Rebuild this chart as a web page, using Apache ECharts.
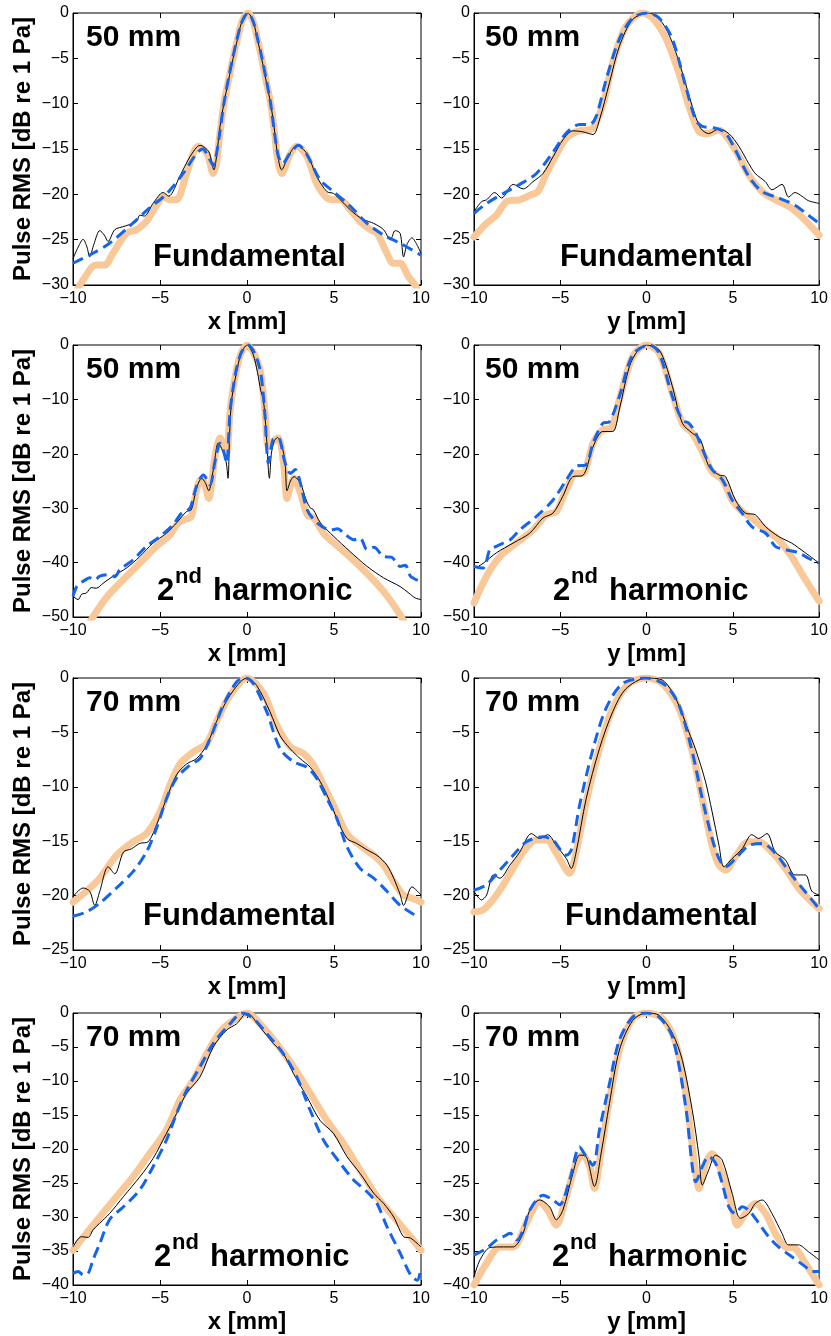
<!DOCTYPE html>
<html><head><meta charset="utf-8">
<script src="https://cdn.jsdelivr.net/npm/echarts@6/dist/echarts.min.js"></script>
<style>html,body{margin:0;padding:0;background:#fff}#c{width:831px;height:1336px}</style>
</head><body><div id="c"></div>
<script>
// ---------- DATA (x or y in mm, Pulse RMS in dB re 1 Pa) ----------
// Panel 1: 50 mm, x, fundamental
const p1Orange = [[-9.8,-30.8],[-9.6,-30],[-9.2,-28.8],[-8.9,-28.0],[-8.66,-27.8],[-8.18,-27.8],[-7.7,-26.5],[-6.93,-24.3],[-6.35,-23.9],[-5.78,-23.0],[-5.2,-21.2],[-4.8,-20.25],[-4.43,-20.6],[-4.05,-20.6],[-3.47,-17.7],[-2.8,-14.7],[-2.3,-15.5],[-1.94,-17.7],[-1.75,-16.5],[-1.6,-14.0],[-1.33,-10],[-1.07,-7.5],[-0.8,-5],[-0.55,-2.9],[-0.3,-1.0],[0.05,0],[0.35,-0.9],[0.6,-2.9],[0.84,-5],[1.1,-7.5],[1.36,-10],[1.6,-13.5],[1.75,-16],[2.0,-17.7],[2.47,-15.6],[2.86,-14.7],[3.44,-15.8],[4.0,-18.8],[4.59,-20.4],[4.97,-20.6],[5.36,-20.6],[5.93,-21.7],[6.5,-23.0],[7.08,-23.9],[7.47,-24.3],[8.04,-26.5],[8.4,-27.6],[8.8,-27.6],[9.28,-29.1],[9.66,-30],[9.85,-30.8]];
const p1Black = [[-10,-27.1],[-9.7,-25.8],[-9.42,-24.96],[-9.2,-25.8],[-9.04,-26.9],[-8.8,-25.5],[-8.46,-24.0],[-8.2,-24.5],[-7.98,-25.2],[-7.6,-23.9],[-7.0,-23.5],[-6.35,-23.0],[-6.16,-22.3],[-5.9,-22.4],[-5.4,-21.0],[-4.82,-19.8],[-4.5,-20.2],[-3.86,-18.0],[-3.26,-15.8],[-2.7,-14.6],[-2.2,-15.3],[-1.9,-17.3],[-1.75,-15.8],[-1.55,-12.5],[-1.33,-10],[-1.07,-7.5],[-0.8,-5],[-0.55,-2.9],[-0.3,-1.0],[0.05,0],[0.35,-0.9],[0.6,-2.9],[0.84,-5],[1.1,-7.5],[1.36,-10],[1.55,-12.5],[1.75,-15.5],[1.99,-17.3],[2.38,-15.8],[2.86,-14.6],[3.44,-15.5],[4.0,-18.0],[4.59,-19.7],[4.97,-19.9],[5.36,-20.6],[5.93,-21.7],[6.3,-22.3],[6.7,-22.8],[7.28,-23.2],[7.85,-23.9],[8.24,-25.0],[8.52,-24.0],[8.8,-24.3],[9.0,-26.9],[9.2,-25.5],[9.48,-24.8],[9.75,-25.5],[10,-26.5]];
const p1Blue = [[-10,-27.6],[-8.85,-26.5],[-7.9,-25.4],[-6.75,-23.5],[-5.6,-21.5],[-4.6,-19.9],[-3.67,-17.7],[-2.9,-15.5],[-2.55,-15.0],[-2.13,-16.2],[-1.94,-16.8],[-1.75,-15.5],[-1.55,-13],[-1.33,-10],[-1.07,-7.3],[-0.8,-4.8],[-0.55,-2.7],[-0.3,-1.0],[0.05,0],[0.35,-0.9],[0.6,-2.8],[0.84,-4.8],[1.1,-7.3],[1.36,-10],[1.6,-13.5],[1.8,-15.8],[2.05,-16.6],[2.47,-15.5],[2.96,-14.6],[3.44,-15.6],[4.2,-18.4],[4.97,-19.7],[5.93,-21.3],[6.9,-23.2],[7.85,-24.5],[8.8,-25.4],[10,-26.7]];
// Panel 2: 50 mm, y, fundamental
const p2Orange = [[-10,-24.7],[-9.27,-23.2],[-8.7,-22.3],[-8.1,-20.8],[-7.35,-20.6],[-6.77,-20.1],[-6.3,-19.7],[-5.8,-17.7],[-5.2,-15.5],[-4.65,-13.8],[-4.08,-13.1],[-3.5,-12.9],[-3.1,-12.7],[-2.5,-9.9],[-1.96,-5.5],[-1.2,-1.5],[-0.23,0],[0.35,-0.55],[1.1,-2.7],[1.87,-6.6],[2.46,-10.3],[3.04,-13.1],[3.5,-13.3],[4.2,-12.9],[4.77,-14.0],[5.35,-15.8],[5.92,-17.85],[6.7,-19.7],[7.46,-20.6],[8.23,-21.3],[9.0,-22.5],[10,-24.5]];
const p2Black = [[-10,-21.9],[-9.56,-20.8],[-9.27,-20.6],[-8.8,-19.8],[-8.4,-20.4],[-7.73,-18.9],[-7.15,-19.4],[-6.58,-18.6],[-6.0,-17.7],[-5.4,-15.8],[-4.85,-14.0],[-4.27,-13.0],[-3.7,-13.1],[-3.1,-13.4],[-2.73,-11.8],[-2.15,-7.7],[-1.58,-3.7],[-0.8,-0.7],[0.15,0],[0.92,-1.1],[1.5,-3.3],[2.08,-6.6],[2.65,-10.3],[3.13,-12.7],[3.6,-13.3],[4.19,-12.8],[4.77,-13.3],[5.35,-14.7],[5.92,-16.6],[6.3,-17.7],[6.88,-18.6],[7.27,-19.5],[7.85,-18.9],[8.23,-20.3],[8.6,-19.8],[9.0,-20.2],[9.38,-20.7],[10,-21.0]];
const p2Blue = [[-10,-22.1],[-9.27,-21.0],[-8.3,-19.9],[-7.35,-18.9],[-6.38,-17.7],[-5.4,-15.3],[-4.65,-13.25],[-3.88,-12.3],[-3.3,-12.3],[-2.92,-11.4],[-2.35,-7.4],[-1.58,-2.9],[-0.8,-0.55],[0,0],[0.73,-0.55],[1.5,-2.9],[2.27,-8.1],[2.85,-11.8],[3.23,-12.5],[4.0,-12.7],[4.58,-13.25],[5.15,-15.1],[5.92,-18.0],[6.7,-19.7],[7.65,-20.4],[8.6,-21.2],[9.38,-22.3],[10,-23.2]];
// Panel 3: 50 mm, x, 2nd harmonic
const p3Orange = [[-9.2,-52],[-8.85,-50],[-8.1,-46.5],[-7.1,-43.1],[-6.16,-40.1],[-5.2,-37],[-4.43,-34.9],[-3.95,-32.7],[-3.57,-32.1],[-3.2,-31.5],[-2.9,-26.6],[-2.6,-24.5],[-2.4,-26],[-2.2,-28.2],[-1.84,-20.5],[-1.55,-17.1],[-1.35,-18.5],[-1.17,-19.9],[-0.98,-12.5],[-0.8,-8],[-0.6,-4.5],[-0.35,-1.6],[0,0],[0.4,-1.6],[0.75,-4.5],[0.9,-8],[1.04,-12.5],[1.23,-18.7],[1.5,-17.7],[1.8,-17.1],[2.1,-21.7],[2.3,-28.2],[2.5,-26],[2.7,-24.5],[3.07,-27.2],[3.46,-31.2],[3.84,-31.8],[4.4,-34.6],[5,-36.4],[5.9,-38.9],[6.9,-42],[7.85,-45.3],[8.8,-49.6],[9.2,-52]];
const p3Black = [[-10,-46.2],[-9.7,-46.8],[-9.5,-45.8],[-9.23,-45.6],[-8.95,-44.6],[-8.66,-44.7],[-8.27,-43.8],[-7.7,-42.5],[-6.93,-41.0],[-6.16,-38.9],[-5.4,-36.4],[-4.63,-34.6],[-4.05,-32.7],[-3.47,-30.6],[-3.2,-30.3],[-2.9,-26.3],[-2.6,-24.5],[-2.4,-25.3],[-2.2,-26.8],[-1.94,-23],[-1.65,-18.0],[-1.46,-19],[-1.2,-21.5],[-1.09,-24.5],[-1.0,-16.5],[-0.88,-10],[-0.6,-5],[-0.35,-1.7],[0,0],[0.35,-1.7],[0.6,-5],[0.8,-8.5],[0.94,-10],[1.1,-16],[1.29,-24.5],[1.4,-20],[1.55,-17.8],[1.75,-17],[2.0,-18.5],[2.19,-21.7],[2.3,-26.8],[2.5,-25.0],[2.7,-24.2],[3.07,-25.4],[3.4,-28.5],[3.65,-30],[3.8,-30.2],[4.22,-32.7],[4.99,-35.2],[5.9,-37.9],[6.9,-40.7],[7.85,-42.8],[8.8,-44.4],[9.3,-45.6],[9.67,-46.5],[10,-46.8]];
const p3Blue = [[-10,-46.2],[-9.8,-44.5],[-9.6,-43.8],[-9.3,-43.2],[-9.04,-42.8],[-8.75,-43.2],[-8.46,-42.5],[-7.9,-42.2],[-7.6,-42.6],[-7.3,-41.3],[-6.55,-39.5],[-5.78,-37],[-5.0,-35.2],[-4.24,-33],[-3.76,-30.9],[-3.28,-30],[-2.9,-26],[-2.5,-23.9],[-2.13,-25.7],[-1.84,-21.4],[-1.55,-18.05],[-1.35,-19.5],[-1.17,-21.7],[-0.98,-12.5],[-0.8,-8],[-0.6,-4.3],[-0.3,-1.2],[0.08,0],[0.45,-1.6],[0.75,-4.5],[0.9,-8],[1.04,-13.2],[1.23,-21.7],[1.5,-17.4],[1.8,-17.1],[2.19,-21.7],[2.5,-23.6],[2.78,-22.9],[3.07,-25.4],[3.46,-30.3],[4.03,-32.7],[4.8,-34],[5.2,-33.8],[5.57,-34.6],[6.14,-35.8],[6.5,-35.5],[6.9,-37.6],[7.3,-37.2],[7.85,-38.9],[8.3,-39],[8.8,-40.7],[9.1,-40.5],[9.4,-42.5],[10,-43.5]];
// Panel 4: 50 mm, y, 2nd harmonic
const p4Orange = [[-10,-47.4],[-9.27,-42.5],[-8.5,-38.9],[-7.54,-36.4],[-6.58,-34],[-5.8,-31.2],[-5.23,-30.6],[-4.65,-26.6],[-4.08,-23.6],[-3.7,-23.6],[-3.1,-18.05],[-2.54,-15.6],[-2.06,-15.3],[-1.58,-10.1],[-0.8,-2.1],[0,0],[0.73,-1.5],[1.5,-8.9],[2.08,-14.4],[2.65,-16.2],[3.23,-19.6],[3.8,-23.3],[4.4,-24.8],[4.96,-28.5],[5.54,-30.6],[6.1,-31.8],[6.9,-34],[7.65,-35.8],[8.4,-38.9],[9.2,-43.1],[10,-47.1]];
const p4Black = [[-9.75,-40.7],[-9.46,-40.1],[-8.7,-38.2],[-7.73,-36.4],[-6.77,-34.6],[-6.0,-31.8],[-5.42,-30.9],[-4.85,-27.8],[-4.27,-24.2],[-3.7,-24],[-3.1,-18.7],[-2.54,-15.9],[-1.96,-15.9],[-1.58,-11.9],[-1.0,-4],[-0.5,-1.0],[0,0],[0.3,-0.2],[0.73,-0.9],[1.1,-3.5],[1.5,-7.65],[2.08,-14.4],[2.65,-16.2],[3.13,-17.4],[3.6,-22.3],[4.2,-23.9],[4.58,-24.2],[5.15,-28.5],[5.73,-30.9],[6.3,-31.2],[6.9,-33.4],[7.65,-35.2],[8.4,-36.4],[9.2,-38.2],[10,-40.1]];
const p4Blue = [[-10,-40.7],[-9.46,-41.0],[-9.08,-37.6],[-8.7,-37],[-8.3,-36.4],[-7.9,-35.8],[-7.35,-34],[-6.38,-31.5],[-5.42,-28.5],[-4.65,-24.8],[-4.08,-22.3],[-3.5,-22.0],[-3.1,-18.05],[-2.54,-14.4],[-2.15,-14.1],[-1.58,-9.5],[-0.8,-1.8],[0.15,0],[0.73,-1.5],[1.5,-9.5],[2.08,-13.8],[2.46,-14.4],[2.85,-16.2],[3.42,-20.5],[3.8,-22.9],[4.4,-24.8],[4.96,-28.5],[5.54,-30.9],[6.1,-33.4],[6.9,-34.6],[7.46,-37],[8.04,-37.6],[8.8,-38.2],[9.38,-39.2],[10,-40.1]];
// Panel 5: 70 mm, x, fundamental
const p5Orange = [[-10,-20.6],[-9.23,-19.6],[-8.46,-18.4],[-7.5,-16.3],[-6.55,-15.05],[-5.78,-14.3],[-5.0,-12.3],[-4.43,-9.85],[-3.86,-7.9],[-3.09,-6.8],[-2.32,-6.0],[-1.75,-4.0],[-0.98,-1.6],[0,0],[0.94,-1.4],[1.7,-4.3],[2.48,-6.3],[3.25,-6.95],[3.82,-8.0],[4.4,-9.85],[4.97,-11.7],[5.74,-14.3],[6.5,-15.4],[7.28,-16.3],[7.85,-17.2],[8.43,-18.7],[9.0,-19.95],[9.58,-20.3],[10,-20.6]];
const p5Black = [[-10,-20.1],[-9.42,-19.3],[-9.04,-19.6],[-8.75,-20.9],[-8.46,-19.6],[-7.98,-17.35],[-7.6,-18],[-7.1,-16],[-6.64,-15.7],[-6.16,-15.2],[-5.68,-15.05],[-5.2,-13.5],[-4.63,-11.1],[-4.05,-8.9],[-3.47,-7.9],[-2.9,-7.4],[-2.32,-6.2],[-1.75,-4.0],[-0.98,-1.6],[0,0],[0.56,-0.7],[1.32,-3.1],[1.9,-5.3],[2.48,-6.5],[3.05,-7.4],[3.63,-8.2],[4.2,-9.5],[4.78,-11.4],[5.16,-12.9],[5.74,-14.75],[6.3,-15.2],[6.9,-15.8],[7.47,-16.3],[8.04,-17.2],[8.43,-18.4],[8.8,-19.9],[9.0,-20.9],[9.48,-19.2],[10,-19.95]];
const p5Blue = [[-10,-21.9],[-9.23,-21.5],[-8.46,-20.7],[-7.5,-19.3],[-6.55,-17.8],[-5.78,-16.0],[-5.2,-13.8],[-4.63,-11.1],[-4.05,-9.2],[-3.28,-8.0],[-2.7,-7.4],[-2.13,-5.6],[-1.36,-2.5],[-0.6,-0.37],[-0.1,0],[0.36,-0.5],[1.13,-3.1],[1.9,-6.5],[2.67,-7.7],[3.44,-8.2],[4.0,-9.2],[4.6,-11.1],[5.16,-12.9],[5.74,-15.5],[6.5,-17.5],[7.28,-18.4],[8.04,-19.6],[8.8,-20.9],[9.66,-21.8]];
// Panel 6: 70 mm, y, fundamental
const p6Orange = [[-10,-21.5],[-9.46,-21.3],[-8.7,-19.95],[-7.92,-18],[-7.15,-16],[-6.38,-14.9],[-5.8,-14.9],[-5.23,-16.1],[-4.65,-17.65],[-4.46,-17.95],[-4.08,-16.0],[-3.5,-11.4],[-2.73,-6.5],[-1.96,-2.8],[-1.0,-0.5],[0,0],[0.92,-0.5],[1.88,-2.8],[2.65,-6.8],[3.23,-11.1],[3.8,-15.4],[4.2,-17.2],[4.58,-17.65],[5.15,-16.4],[5.92,-15.05],[6.5,-15.05],[7.27,-16],[8.04,-17.5],[8.8,-19.3],[9.38,-20.3],[10,-21.2]];
const p6Black = [[-10,-19.6],[-9.56,-20.4],[-9.27,-19.95],[-8.88,-18.1],[-8.5,-18.4],[-7.92,-17.2],[-7.35,-16],[-6.67,-14.3],[-6.2,-14.75],[-5.73,-14.4],[-5.23,-15.4],[-4.65,-16.6],[-4.36,-17.5],[-4.08,-16],[-3.5,-11.1],[-2.73,-6.5],[-1.96,-3.1],[-1.2,-1.0],[0,0],[0.92,-0.2],[1.7,-1.9],[2.46,-5.0],[2.85,-6.6],[3.42,-9.55],[3.8,-12.3],[4.2,-15.4],[4.48,-17.35],[4.96,-16.6],[5.54,-15.7],[6.1,-14.4],[6.5,-14.75],[6.98,-14.3],[7.46,-16],[8.04,-16.7],[8.6,-18.1],[9.2,-18.1],[9.58,-19.6],[10,-19.95]];
const p6Blue = [[-10,-19.5],[-9.27,-19.0],[-8.5,-17.65],[-7.73,-16.3],[-6.96,-15.05],[-6.0,-14.6],[-5.42,-14.9],[-4.65,-16.3],[-4.36,-15.8],[-3.88,-11.7],[-3.1,-6.5],[-2.35,-2.8],[-1.38,-0.5],[0,0],[1.12,-0.7],[1.88,-2.5],[2.65,-6.8],[3.23,-11.1],[3.8,-14.75],[4.2,-16.6],[4.58,-17.35],[5.15,-16.6],[5.92,-15.4],[6.7,-15.2],[7.46,-16.1],[8.4,-18.1],[9.2,-19.65],[10,-21.2]];
// Panel 7: 70 mm, x, 2nd harmonic
const p7Orange = [[-10,-34.9],[-9.23,-32.4],[-8.46,-30],[-7.5,-27],[-6.55,-24.1],[-5.6,-20.7],[-4.63,-17.2],[-3.86,-12.8],[-3.09,-9.9],[-2.32,-6.0],[-1.55,-2.8],[-0.79,-1.1],[0,0],[0.75,-1.6],[1.71,-4.5],[2.67,-7.9],[3.63,-11.8],[4.59,-15.8],[5.55,-19.2],[6.5,-23.1],[7.47,-27],[8.43,-30],[9.4,-32.9],[10,-34.9]];
const p7Black = [[-10,-34.4],[-9.52,-32.9],[-9.13,-33.0],[-8.85,-31.9],[-8.46,-30.9],[-7.9,-29.5],[-7.1,-27.0],[-6.16,-24.1],[-5.4,-21.4],[-4.63,-17.7],[-4.05,-14.8],[-3.47,-11.8],[-2.7,-9.4],[-1.94,-5.0],[-1.17,-2.5],[-0.6,-1.6],[0,0],[0.75,-2.1],[1.52,-4.5],[2.09,-6.0],[2.67,-8.9],[3.44,-12.3],[4.2,-15.8],[4.97,-17.7],[5.74,-21.1],[6.5,-23.6],[7.28,-26.5],[7.85,-28.0],[8.43,-30],[9.0,-32.9],[9.4,-33.1],[10,-34.4]];
const p7Blue = [[-10,-38.3],[-9.7,-38.0],[-9.42,-38.5],[-9.13,-38.3],[-8.85,-36.3],[-8.46,-33.9],[-7.9,-30.4],[-7.1,-28.5],[-6.16,-26.0],[-5.4,-22.6],[-4.63,-18.7],[-4.05,-14.8],[-3.47,-11.4],[-2.7,-7.9],[-1.94,-4.5],[-0.98,-1.6],[-0.3,0],[0.36,-0.8],[1.13,-3.0],[2.09,-6.0],[2.86,-9.4],[3.63,-14.3],[4.4,-18.7],[5.36,-22.1],[6.14,-24.6],[6.9,-26.3],[7.47,-28.0],[8.04,-31.4],[8.8,-35.3],[9.4,-38.5],[9.78,-39.3],[10,-37.5]];
// Panel 8: 70 mm, y, 2nd harmonic
const p8Orange = [[-10,-40],[-9.27,-36.8],[-8.5,-34.4],[-7.73,-34.4],[-6.96,-30.9],[-6.2,-27.75],[-5.73,-29.0],[-5.23,-31.2],[-4.65,-27.0],[-4.08,-22.1],[-3.7,-20.9],[-3.3,-22.6],[-3.02,-25.8],[-2.63,-20.2],[-2.15,-12.8],[-1.58,-5.5],[-0.8,-0.8],[0,0],[0.92,-0.8],[1.7,-4.5],[2.27,-11.8],[2.85,-23.6],[3.04,-25.8],[3.42,-22.1],[3.8,-20.7],[4.38,-23.6],[4.96,-28.5],[5.25,-31.2],[5.73,-29.5],[6.3,-28.0],[6.9,-29.5],[7.46,-32.4],[8.04,-34.4],[8.6,-34.6],[9.2,-36.8],[10,-40]];
const p8Black = [[-10,-38.8],[-9.65,-36.3],[-9.08,-34.5],[-8.3,-34.4],[-7.73,-34.4],[-7.15,-32.4],[-6.77,-29.0],[-6.2,-27.5],[-5.62,-28.5],[-5.23,-30.4],[-4.85,-29.0],[-4.27,-23.6],[-3.88,-20.9],[-3.5,-21.1],[-3.02,-25.5],[-2.63,-20.6],[-2.15,-13.3],[-1.58,-5.5],[-0.8,-1.1],[0,0],[0.73,-0.35],[1.5,-3.0],[2.08,-7.0],[2.65,-14.3],[3.04,-21.1],[3.23,-25.3],[3.6,-23.1],[4.0,-20.9],[4.38,-21.6],[4.96,-26.5],[5.44,-30.2],[5.92,-29.5],[6.3,-28.0],[6.7,-27.5],[7.27,-29.5],[7.85,-32.4],[8.23,-34.1],[8.8,-34.1],[9.38,-35.1],[10,-36.3]];
const p8Blue = [[-10,-35.6],[-9.27,-34.6],[-8.7,-33.4],[-8.3,-32.9],[-7.9,-32.4],[-7.5,-33.4],[-7.15,-31.9],[-6.77,-29.0],[-6.0,-26.8],[-5.42,-27.5],[-5.04,-28.2],[-4.46,-24.6],[-3.88,-19.7],[-3.5,-21.1],[-3.1,-22.4],[-2.73,-17.2],[-2.15,-10.4],[-1.58,-4.0],[-0.8,-0.6],[0,0],[0.73,-0.6],[1.5,-3.5],[2.27,-13.8],[2.65,-22.6],[2.85,-24.8],[3.23,-22.6],[3.6,-21.1],[4.0,-22.1],[4.38,-25],[4.77,-28.5],[5.15,-29.5],[5.54,-28.5],[5.92,-29],[6.5,-30.9],[7.08,-32.9],[7.65,-34.4],[8.4,-35.8],[9.2,-37.3],[9.58,-38.0],[10,-38.0]];

// Axis ranges and labels
const xRange = [-10, 10], xStep = 5;
const yMins = [-30, -30, -50, -50, -25, -25, -40, -40];
const ySteps = [5, 5, 10, 10, 5, 5, 5, 5];
const axisNames = ['x [mm]', 'y [mm]'];
const yAxisTitle = 'Pulse RMS [dB re 1 Pa]';
const depthLabels = ['50 mm', '50 mm', '50 mm', '50 mm', '70 mm', '70 mm', '70 mm', '70 mm'];
const bandLabels = ['Fundamental', 'Fundamental', '2nd', '2nd', 'Fundamental', 'Fundamental', '2nd', '2nd'];
const panelSeries = [
  [p1Orange, p1Black, p1Blue], [p2Orange, p2Black, p2Blue],
  [p3Orange, p3Black, p3Blue], [p4Orange, p4Black, p4Blue],
  [p5Orange, p5Black, p5Blue], [p6Orange, p6Black, p6Blue],
  [p7Orange, p7Black, p7Blue], [p8Orange, p8Black, p8Blue]
];

// ---------- LAYOUT ----------
const FONT = '"Liberation Sans", Arial, Helvetica, sans-serif';
const colLeft = [73, 474], colWidth = [348, 347];
const rowTop = [13, 345, 678, 1013], rowH = 272;
const depthX = [86, 485];
const fundX = [[153, 560], null, [143, 565], null];
const fundMid = [244, 0, 238, 0];
const harmX = [null, [157, 553], null, [154, 552]];
const harmBase = [0, 257, 0, 255];

const fmt = v => (v < 0 ? '\u2212' + Math.abs(v) : String(v));
const tickStyle = {show: true, inside: true, length: 5, lineStyle: {color: '#000', width: 1}};

const grids = [], xAxes = [], yAxes = [], series = [], graphics = [];
const xTop = [], yRight = [];
for (let i = 0; i < 8; i++) {
  const r = Math.floor(i / 2), c = i % 2;
  grids.push({left: colLeft[c], top: rowTop[r], width: colWidth[c], height: rowH,
    show: true, borderColor: '#000', borderWidth: 1, backgroundColor: '#fff'});
  xAxes.push({gridIndex: i, type: 'value', position: 'bottom', min: xRange[0], max: xRange[1], interval: xStep,
    axisLine: {show: true, onZero: false, lineStyle: {color: '#000', width: 1}},
    axisTick: tickStyle,
    axisLabel: {fontSize: 16, color: '#000', fontFamily: FONT, margin: 6, formatter: fmt},
    splitLine: {show: false},
    name: axisNames[c], nameLocation: 'middle', nameGap: 25,
    nameTextStyle: {fontSize: 24, fontWeight: 'bold', color: '#000', fontFamily: FONT}});
  yAxes.push({gridIndex: i, type: 'value', position: 'left', min: yMins[i], max: 0, interval: ySteps[i],
    axisLine: {show: true, onZero: false, lineStyle: {color: '#000', width: 1}},
    axisTick: tickStyle,
    axisLabel: {fontSize: 16, color: '#000', fontFamily: FONT, margin: 4, formatter: fmt},
    splitLine: {show: false},
    name: c === 0 ? yAxisTitle : '', nameLocation: 'middle', nameGap: 38, nameRotate: 90,
    nameTextStyle: {fontSize: 24, fontWeight: 'bold', color: '#000', fontFamily: FONT}});
  xTop.push({gridIndex: i, type: 'value', position: 'top', min: xRange[0], max: xRange[1], interval: xStep,
    axisLine: {show: false, onZero: false}, axisLabel: {show: false}, splitLine: {show: false},
    axisTick: tickStyle});
  yRight.push({gridIndex: i, type: 'value', position: 'right', min: yMins[i], max: 0, interval: ySteps[i],
    axisLine: {show: false, onZero: false}, axisLabel: {show: false}, splitLine: {show: false},
    axisTick: tickStyle});

  const [sOr, sBl, sBu] = panelSeries[i];
  series.push({type: 'line', xAxisIndex: i, yAxisIndex: i, data: sOr, symbol: 'none', smooth: 0.3,
    clip: true, z: 2, lineStyle: {color: '#F9C899', width: 7, cap: 'round', join: 'round'}});
  series.push({type: 'line', xAxisIndex: i, yAxisIndex: i, data: sBl, symbol: 'none', smooth: 0.3,
    clip: true, z: 3, lineStyle: {color: '#000', width: 1}});
  series.push({type: 'line', xAxisIndex: i, yAxisIndex: i, data: sBu, symbol: 'none', smooth: 0.3,
    clip: true, z: 4, lineStyle: {color: '#1565EC', width: 3, type: [11, 6]}});

  // annotations
  graphics.push({type: 'text', x: depthX[c], y: rowTop[r] + 25, z: 100,
    style: {text: depthLabels[i], fontSize: 30, fontWeight: 'bold', fontFamily: FONT, fill: '#000',
      align: 'left', verticalAlign: 'middle'}});
  if (bandLabels[i] === 'Fundamental') {
    graphics.push({type: 'text', x: fundX[r][c], y: rowTop[r] + fundMid[r], z: 100,
      style: {text: 'Fundamental', fontSize: 31, fontWeight: 'bold', fontFamily: FONT, fill: '#000',
        align: 'left', verticalAlign: 'middle'}});
  } else {
    const bx = harmX[r][c], base = rowTop[r] + harmBase[r];
    graphics.push({type: 'text', x: bx, y: base - 0.35 * 31, z: 100,
      style: {text: '2', fontSize: 31, fontWeight: 'bold', fontFamily: FONT, fill: '#000',
        align: 'left', verticalAlign: 'middle'}});
    graphics.push({type: 'text', x: bx + 18, y: base - 17 - 0.35 * 22, z: 100,
      style: {text: 'nd', fontSize: 22, fontWeight: 'bold', fontFamily: FONT, fill: '#000',
        align: 'left', verticalAlign: 'middle'}});
    graphics.push({type: 'text', x: bx + 56, y: base - 0.35 * 31, z: 100,
      style: {text: 'harmonic', fontSize: 31, fontWeight: 'bold', fontFamily: FONT, fill: '#000',
        align: 'left', verticalAlign: 'middle'}});
  }
}

const chart = echarts.init(document.getElementById('c'), null, {renderer: 'canvas'});
chart.setOption({
  animation: false,
  backgroundColor: '#fff',
  grid: grids,
  xAxis: xAxes.concat(xTop),
  yAxis: yAxes.concat(yRight),
  series: series,
  graphic: graphics
});
</script></body></html>
